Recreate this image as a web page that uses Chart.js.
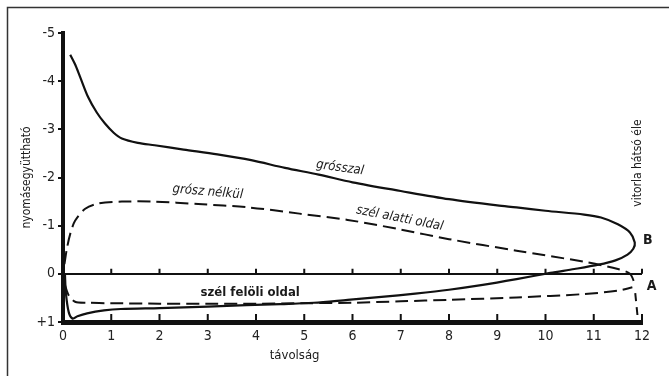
<!DOCTYPE html>
<html>
<head>
<meta charset="utf-8">
<script src="https://cdn.jsdelivr.net/npm/chart.js@4.4.0/dist/chart.umd.min.js"></script>
<style>
body { margin: 0; background: #fff; }
canvas { display: block; }
</style>
</head>
<body>
<canvas id="myChart" width="669" height="376"></canvas>
<script>
// values
var distTicks = [0, 1, 2, 3, 4, 5, 6, 7, 8, 9, 10, 11, 12];
var cpTickValues = [-5, -4, -3, -2, -1, 0, 1];
var cpTickLabels = ['-5', '-4', '-3', '-2', '-1', '0', '+1'];

// with jib (grósszal): lee side out to the trailing edge B, then windward side back
var withJibX = [0.15, 0.25, 0.35, 0.52, 0.7, 0.87, 1.05, 1.22, 1.55, 1.9, 2.5, 3.2, 3.9, 4.6, 5.3, 6, 7, 8, 9, 9.4, 10, 10.8, 11.15, 11.5, 11.75, 11.85,
  11.82, 11.7, 11.45, 11.1, 10.6, 10.1, 9.4, 8.7, 8, 7.3, 6.6, 5.9, 5.2, 4.5, 3.8, 3, 2, 1.2, 0.85, 0.5, 0.3, 0.2, 0.12, 0.06, 0.04];
var withJibCp = [-4.55, -4.35, -4.1, -3.67, -3.35, -3.12, -2.93, -2.81, -2.72, -2.67, -2.58, -2.48, -2.36, -2.2, -2.06, -1.9, -1.72, -1.55, -1.42, -1.38, -1.31, -1.23, -1.17, -1.03, -0.86, -0.65,
  -0.52, -0.4, -0.28, -0.19, -0.1, -0.02, 0.11, 0.23, 0.33, 0.41, 0.48, 0.54, 0.6, 0.63, 0.65, 0.68, 0.71, 0.73, 0.76, 0.82, 0.88, 0.93, 0.8, 0.4, 0];

// without jib (grósz nélkül), lee side
var noJibLeeX = [0.03, 0.08, 0.15, 0.25, 0.46, 0.73, 1.22, 1.9, 2.8, 3.84, 4.9, 5.9, 7, 8, 9.4, 10.8, 11.5, 11.75, 11.85];
var noJibLeeCp = [-0.2, -0.52, -0.83, -1.1, -1.35, -1.46, -1.5, -1.5, -1.45, -1.38, -1.25, -1.12, -0.92, -0.72, -0.48, -0.25, -0.1, 0, 0.2];

// without jib, windward side
var noJibWindX = [0.03, 0.12, 0.25, 0.5, 1, 2, 3, 4, 5, 6, 7, 8, 9.4, 10.8, 11.5, 11.8];
var noJibWindCp = [0.2, 0.45, 0.58, 0.6, 0.61, 0.62, 0.62, 0.62, 0.61, 0.6, 0.57, 0.54, 0.49, 0.42, 0.35, 0.28];

// drop at the trailing edge down from A
var edgeX = [11.86, 11.92];
var edgeCp = [0.4, 1];

var fam = "'Liberation Sans Narrow', 'DejaVu Sans Condensed', 'Liberation Sans', sans-serif";

function toPts(xs, ys) {
  return xs.map(function(x, i) { return { x: x, y: ys[i] }; });
}

// ticks inside the plot, curve names, frame of the scan
var sketchExtras = {
  id: 'sketchExtras',
  afterDatasetsDraw: function(chart) {
    var ctx = chart.ctx;
    var xs = chart.scales.x;
    var ys = chart.scales.y;
    ctx.save();
    ctx.strokeStyle = '#333';
    ctx.lineWidth = 1.5;
    ctx.beginPath();
    ctx.moveTo(7.5, 376);
    ctx.lineTo(7.5, 7.5);
    ctx.lineTo(669, 7.5);
    ctx.stroke();

    ctx.strokeStyle = '#111';
    ctx.lineWidth = 2;
    var y0 = ys.getPixelForValue(0);
    var y1 = ys.getPixelForValue(1);
    distTicks.forEach(function(d) {
      if (d === 0) return;
      var px = xs.getPixelForValue(d);
      ctx.beginPath();
      ctx.moveTo(px, y0);
      ctx.lineTo(px, y0 - 5);
      ctx.moveTo(px, y1 - 2);
      ctx.lineTo(px, y1 - 8);
      ctx.stroke();
    });

    ctx.fillStyle = '#1a1a1a';
    ctx.textAlign = 'center';
    ctx.textBaseline = 'middle';
    function put(text, d, cp, rot, font) {
      ctx.save();
      ctx.translate(xs.getPixelForValue(d), ys.getPixelForValue(cp));
      ctx.rotate(rot * Math.PI / 180);
      ctx.font = font;
      ctx.fillText(text, 0, 0);
      ctx.restore();
    }
    put('grósszal', 5.74, -2.2, 8, 'italic 13px ' + fam);
    put('grósz nélkül', 3.0, -1.7, 5, 'italic 13px ' + fam);
    put('szél alatti oldal', 6.98, -1.15, 11, 'italic 13px ' + fam);
    put('szél felöli oldal', 3.88, 0.38, 0, 'bold 13px ' + fam);
    put('B', 12.12, -0.7, 0, 'bold 14px ' + fam);
    put('A', 12.2, 0.27, 0, 'bold 14px ' + fam);
    put('vitorla hátsó éle', 11.92, -2.3, -90, '12px ' + fam);
    put('távolság', 4.8, 1.69, 0, '13px ' + fam);
    ctx.restore();
  }
};

var lineBase = {
  showLine: true,
  pointRadius: 0,
  borderColor: '#111',
  borderWidth: 2.2,
  fill: false,
  tension: 0.3
};

new Chart('myChart', {
  type: 'scatter',
  data: {
    datasets: [
      Object.assign({}, lineBase, { label: 'grósszal', data: toPts(withJibX, withJibCp) }),
      Object.assign({}, lineBase, { label: 'szél alatti oldal', data: toPts(noJibLeeX, noJibLeeCp), borderDash: [13, 6], borderWidth: 2 }),
      Object.assign({}, lineBase, { label: 'szél felöli oldal', data: toPts(noJibWindX, noJibWindCp), borderDash: [13, 6], borderWidth: 2 }),
      Object.assign({}, lineBase, { label: 'él', data: toPts(edgeX, edgeCp), borderDash: [8, 6], borderWidth: 2, tension: 0 })
    ]
  },
  options: {
    responsive: false,
    animation: false,
    devicePixelRatio: 1,
    layout: { padding: { left: 0, top: 33, right: 27, bottom: 0 } },
    plugins: { legend: { display: false }, tooltip: { enabled: false } },
    scales: {
      x: {
        type: 'linear',
        min: 0,
        max: 12,
        ticks: { stepSize: 1, padding: 6, color: '#222', font: { family: fam, size: 14 } },
        grid: { display: false, drawTicks: false },
        border: { display: true, color: '#111', width: 5 },
        afterFit: function(s) { s.height = 54; }
      },
      y: {
        type: 'linear',
        min: -5,
        max: 1,
        reverse: true,
        ticks: {
          stepSize: 1,
          padding: 3,
          color: '#222',
          font: { family: fam, size: 14 },
          callback: function(v) {
            var i = cpTickValues.indexOf(v);
            return i < 0 ? '' : cpTickLabels[i];
          }
        },
        grid: {
          color: function(c) { return c.tick && c.tick.value === 0 ? '#111' : 'rgba(0,0,0,0)'; },
          lineWidth: 2,
          tickColor: '#111',
          tickLength: 5,
          tickWidth: 2
        },
        border: { color: '#111', width: 4 },
        title: { display: true, text: 'nyomásegyüttható', color: '#1a1a1a', font: { family: fam, size: 12 }, padding: { top: 20, bottom: 0 } },
        afterFit: function(s) { s.width = 63; }
      }
    }
  },
  plugins: [sketchExtras]
});
</script>
</body>
</html>
